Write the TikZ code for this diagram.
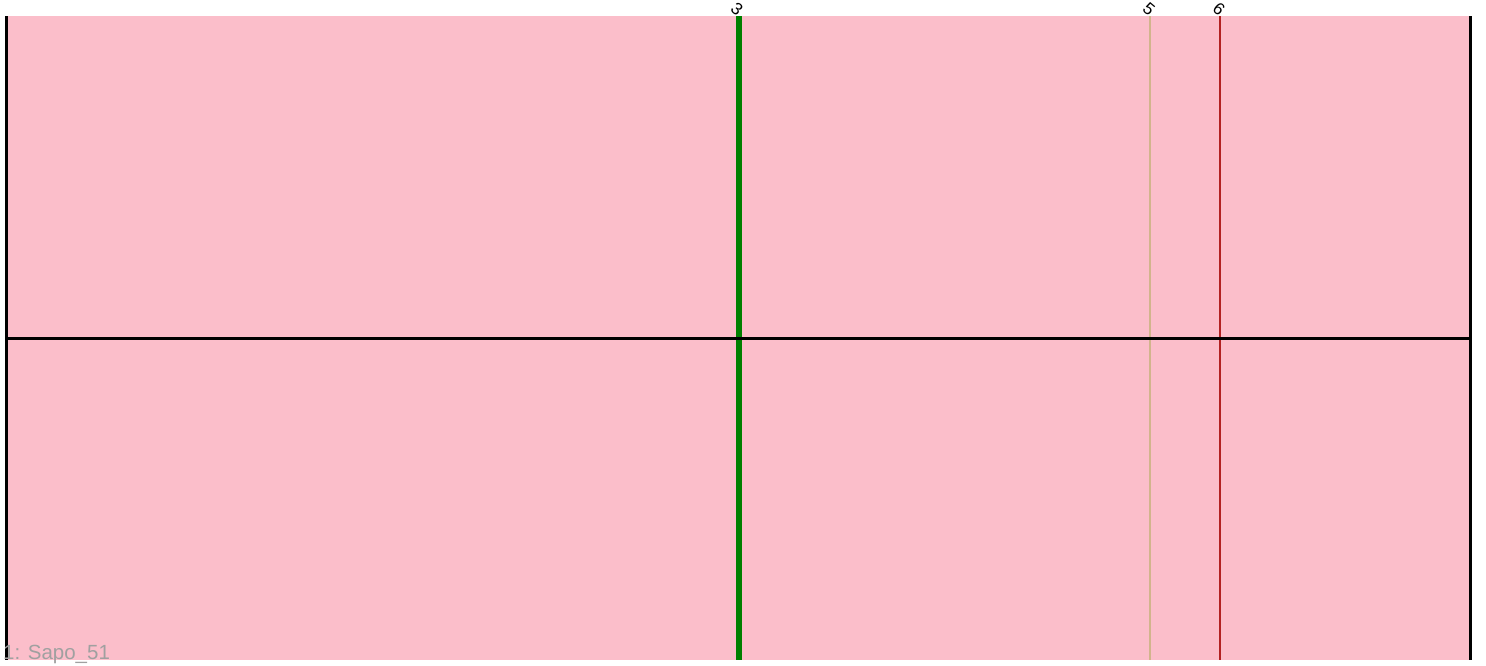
\documentclass[tikz,border=0pt]{standalone}
\usepackage{fontspec}
\setmainfont{Liberation Sans}
\usepackage{tikz}
\usetikzlibrary{positioning}
\definecolor{bandpink}{HTML}{FBBECA}
\definecolor{hitgreen}{HTML}{008000}
\definecolor{hittan}{HTML}{D2B48C}
\definecolor{hitred}{HTML}{B22222}
\definecolor{labelgray}{HTML}{A0A0A0}

\begin{document}
\begin{tikzpicture}[x=1pt,y=-1pt,
  poslabel/.style={font=\fontsize{17}{17}\selectfont, rotate=-40, inner sep=0pt},
  hit/.style={line width=#1}]
\useasboundingbox (0,0) rectangle (1486,665);

% band
\fill[bandpink] (6,16) rectangle (1470,660);

% ends of the band
\coordinate (lefttop) at (6,16);
\coordinate (leftbot) at (6,660);
\coordinate (righttop) at (1470,16);
\coordinate (rightbot) at (1470,660);
\coordinate (midleft) at (6,338);
\coordinate (midright) at (1470,338);

% hits
\coordinate (h3top) at (739,16);
\coordinate (h3bot) at (739,660);
\coordinate (h5top) at (1150,16);
\coordinate (h5bot) at (1150,660);
\coordinate (h6top) at (1220,16);
\coordinate (h6bot) at (1220,660);

\draw[hitgreen, hit=6pt] (h3top) -- (h3bot);
\draw[hittan, hit=2.2pt] (h5top) -- (h5bot);
\draw[hitred, hit=2.2pt] (h6top) -- (h6bot);

% frame
\draw[black, line width=3pt] (lefttop) -- (leftbot);
\draw[black, line width=3pt] (righttop) -- (rightbot);
\draw[black, line width=3pt] (midleft) -- (midright);

% labels
\node[poslabel] (l3) at (737,9) {3};
\node[poslabel] (l5) at (1149,9) {5};
\node[poslabel] (l6) at (1219,9) {6};
\node[anchor=base west, inner sep=0pt, text=labelgray, font=\fontsize{20.5}{20.5}\selectfont] (name) at (3,659) {1: Sapo\_51};
\end{tikzpicture}
\end{document}
